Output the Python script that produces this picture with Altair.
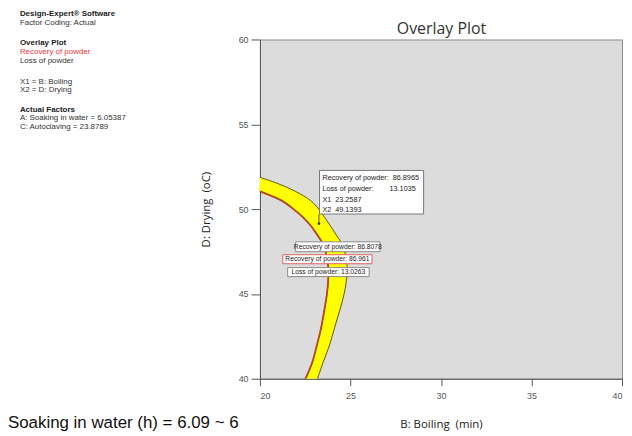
import altair as alt
import pandas as pd

NB = "\u00a0"

# ---- data ----
# band (overlay "sweet spot") sampled along D: Drying
band_y = [51.87, 51.5, 51.05, 50.5, 50.0, 49.5, 49.0, 48.5, 48.0, 47.5, 47.0,
          46.5, 46.0, 45.0, 44.0, 43.0, 42.0, 41.0, 40.0]
band_x_outer = [20.0, 21.0, 21.95, 22.8, 23.25, 23.58, 23.9, 24.2, 24.5, 24.68, 24.78,
                24.82, 24.8, 24.65, 24.4, 24.12, 23.85, 23.5, 23.18]
band_x_inner = [20.0, 20.0, 20.0, 21.2, 21.85, 22.4, 22.82, 23.15, 23.45, 23.62, 23.72,
                23.78, 23.78, 23.7, 23.55, 23.38, 23.15, 22.9, 22.52]

x_ticks = [20, 25, 30, 35, 40]
y_ticks = [40, 45, 50, 55, 60]

flag_x = 23.2587
flag_y = 49.1393
flag_lines = ["Recovery of powder:" + NB * 2 + "86.8965",
              "Loss of powder:" + NB * 8 + "13.1035",
              "X1" + NB * 2 + "23.2587", "X2" + NB * 2 + "49.1393"]

label_texts = ["Recovery of powder: 86.8078", "Recovery of powder: 86.961",
               "Loss of powder: 13.0263"]
label_colors = ["#888888", "#e06060", "#888888"]

side_lines = ["Design-Expert\u00ae Software", "Factor Coding: Actual",
              "Overlay Plot", "Recovery of powder", "Loss of powder",
              "X1 = B: Boiling", "X2 = D: Drying",
              "Actual Factors", "A: Soaking in water = 6.05387",
              "C: Autoclaving = 23.8789"]
side_bold = [True, False, True, False, False, False, False, True, False, False]
side_color = ["#222222", "#333333", "#222222", "#e8383d", "#333333", "#333333",
              "#333333", "#222222", "#333333", "#333333"]

# ---- annotation placement (data units) ----
flag_box = dict(x=23.29, x2=29.04, y=52.28, y2=49.71)
flag_text_x = 23.45
flag_text_y = [51.81, 51.17, 50.53, 49.94]
label_boxes = [
    dict(x=21.97, x2=26.63, y=48.07, y2=47.49, tx=24.30, ty=47.78),
    dict(x=21.26, x2=26.19, y=47.31, y2=46.78, tx=23.73, ty=47.05),
    dict(x=21.53, x2=26.03, y=46.55, y2=46.02, tx=23.78, ty=46.29),
]
side_y = [12, 21, 42, 51, 60, 81, 89, 109, 117, 126]  # page pixels

PLOT_LEFT, PLOT_TOP = 262, 38
XT = "B: Boiling" + NB * 2 + "(min)"
YT = "D: Drying" + NB * 2 + "(oC)"
xs = alt.Scale(domain=[20, 40], nice=False, zero=False)
ys = alt.Scale(domain=[40, 60], nice=False, zero=False)
XA = alt.Axis(values=x_ticks, title=XT)
YA = alt.Axis(values=y_ticks, title=YT)
FONT = "Liberation Sans"


def X(f):
    return alt.X(f, scale=xs, axis=XA)


def Y(f):
    return alt.Y(f, scale=ys, axis=YA)


band_df = pd.DataFrame({"y": band_y, "xo": band_x_outer, "xi": band_x_inner})

area = alt.Chart(band_df).mark_area(orient="horizontal", color="#FFFF00", opacity=1,
                                    interpolate="catmull-rom").encode(
    y=Y("y:Q"), x=X("xi:Q"), x2="xo:Q")

outer_df = pd.DataFrame({"x": band_x_outer, "y": band_y, "i": list(range(len(band_y)))})
inner_rows = [(xv, yv) for xv, yv in zip(band_x_inner, band_y) if yv <= 51.05]
inner_df = pd.DataFrame({"x": [r[0] for r in inner_rows], "y": [r[1] for r in inner_rows],
                         "i": list(range(len(inner_rows)))})

outer_line = alt.Chart(outer_df).mark_line(color="#6b5a00", strokeWidth=1,
                                           interpolate="catmull-rom").encode(
    x=X("x:Q"), y=Y("y:Q"), order="i:Q")
inner_line_b = alt.Chart(inner_df).mark_line(color="#8a4a20", strokeWidth=1.8,
                                             interpolate="catmull-rom").encode(
    x=X("x:Q"), y=Y("y:Q"), order="i:Q")
inner_line_r = alt.Chart(inner_df).mark_line(color="#e03a3a", strokeWidth=0.9,
                                             interpolate="catmull-rom").encode(
    x=X("x:Q"), y=Y("y:Q"), order="i:Q")

# flag
flag_box_df = pd.DataFrame([flag_box])
flag_rect = alt.Chart(flag_box_df).mark_rect(fill="white", stroke="#777777", strokeWidth=1).encode(
    x=X("x:Q"), x2="x2:Q", y=Y("y:Q"), y2="y2:Q")
flag_pt_df = pd.DataFrame({"x": [flag_x], "y": [flag_y], "y2": [flag_box["y2"]]})
flag_rule = alt.Chart(flag_pt_df).mark_rule(color="#555555", strokeWidth=1).encode(
    x=X("x:Q"), y=Y("y:Q"), y2="y2:Q")
flag_dot = alt.Chart(flag_pt_df).mark_point(filled=True, color="#444444", size=8, opacity=1).encode(
    x=X("x:Q"), y=Y("y:Q"))
flag_txt_df = pd.DataFrame({"x": [flag_text_x] * 4, "y": flag_text_y, "t": flag_lines})
flag_text = alt.Chart(flag_txt_df).mark_text(align="left", baseline="middle", fontSize=7.3,
                                             font=FONT, color="#222222").encode(
    x=X("x:Q"), y=Y("y:Q"), text="t:N")

# small labels
lab_df = pd.DataFrame([dict(b, t=t, c=c) for b, t, c in zip(label_boxes, label_texts, label_colors)])
lab_rect = alt.Chart(lab_df).mark_rect(fill="white", strokeWidth=1).encode(
    x=X("x:Q"), x2="x2:Q", y=Y("y:Q"), y2="y2:Q",
    stroke=alt.Stroke("c:N", scale=None))
lab_text = alt.Chart(lab_df).mark_text(align="center", baseline="middle", fontSize=6.8,
                                       font=FONT, color="#222222").encode(
    x=X("tx:Q"), y=Y("ty:Q"), text="t:N")

# side panel texts (outside the plot area)
side_df = pd.DataFrame({"t": side_lines, "py": [v - PLOT_TOP for v in side_y],
                        "b": side_bold, "c": side_color})


def side_layer(bold):
    return alt.Chart(side_df[side_df["b"] == bold]).mark_text(
        align="left", baseline="middle", fontSize=8, font=FONT,
        fontWeight="bold" if bold else "normal").encode(
        x=alt.value(20 - PLOT_LEFT), y=alt.Y("py:Q", scale=None), text="t:N",
        color=alt.Color("c:N", scale=None))


title_text = alt.Chart(pd.DataFrame({"t": ["Overlay Plot"]})).mark_text(
    align="center", baseline="middle", fontSize=16, font="Open Sans", color="#333333").encode(
    x=alt.value(445 - PLOT_LEFT), y=alt.value(27 - PLOT_TOP), text="t:N")

bottom_text = alt.Chart(pd.DataFrame({"t": ["Soaking in water (h) = 6.09 ~ 6"]})).mark_text(
    align="left", baseline="middle", fontSize=17, font=FONT, color="#111111").encode(
    x=alt.value(8 - PLOT_LEFT), y=alt.value(425 - PLOT_TOP), text="t:N")

chart = alt.layer(
    area, inner_line_b, inner_line_r, outer_line,
    flag_rule, flag_rect, flag_text, flag_dot,
    lab_rect, lab_text,
    side_layer(True), side_layer(False), title_text, bottom_text,
).properties(
    width=365, height=342,
    autosize=alt.AutoSizeParams(type="none"),
    padding={"left": 254, "top": 30, "right": 2, "bottom": 55},
).configure_view(
    fill="#DCDCDC", stroke="#8a8a8a", strokeWidth=1,
).configure_axis(
    grid=False, domainColor="#555555", tickColor="#555555",
    labelColor="#555555", labelFont=FONT, labelFontSize=9,
    titleFont="Open Sans", titleFontSize=11.5, titleFontWeight="normal", titleColor="#222222",
).configure_axisX(
    tickSize=7, labelPadding=6, titleY=46, titleBaseline="middle",
).configure_axisY(
    tickSize=9, labelPadding=3, titleX=-54, titleY=171,
    titleAngle=-90, titleAlign="center", titleBaseline="middle",
)

chart.save("out.html", embed_options={"renderer": "svg", "actions": False})
